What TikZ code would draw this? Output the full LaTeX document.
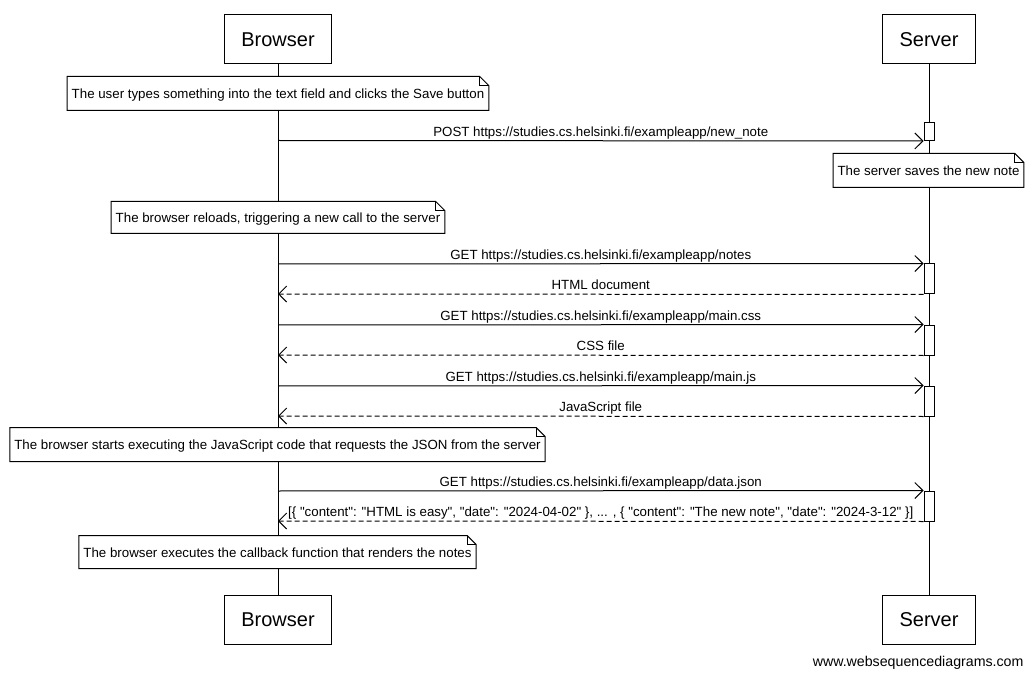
\documentclass[tikz,border=0pt]{standalone}
\usepackage{fontspec}
\setmainfont{Liberation Sans}[Ligatures=TeXOff]
\usetikzlibrary{arrows.meta,positioning}
\newcommand{\actorfont}{\fontsize{20}{24}\selectfont}
\newcommand{\notefont}{\fontsize{13.3}{16}\selectfont}
\newcommand{\noteframe}[1]{%
  \draw (#1.south west) -- (#1.north west) -- ([xshift=-9pt]#1.north east)
    -- ([yshift=-9pt]#1.north east) -- (#1.south east) -- cycle;
  \draw ([xshift=-9pt]#1.north east) |- ([yshift=-9pt]#1.north east);}

\begin{document}
\begin{tikzpicture}[x=1pt,y=-1pt,line width=1pt,
  actor/.style={draw,inner xsep=17pt,minimum height=49pt,font=\actorfont},
  note/.style={fill=white,inner xsep=4pt,minimum height=33pt,text height=10pt,text depth=0pt,font=\notefont},
  act/.style={draw,fill=white,minimum width=10pt,inner sep=0pt},
  msg/.style={-{Straight Barb[length=8pt,width=16pt]}},
  reply/.style={msg,dash pattern=on 5pt off 3pt},
  lbl/.style={above,inner sep=1pt,text depth=3.2pt,font=\notefont}]
  \useasboundingbox (0,0) rectangle (1034,679);
  \node[actor] (browser) at (278,39.5) {Browser};
  \node[actor] (server) at (929,39.5) {Server};
  \node[actor] (browserbot) at (278,620) {Browser};
  \node[actor] (serverbot) at (929,620) {Server};
  \draw (browser) -- (browserbot);
  \draw (server) -- (serverbot);

  \node[note] (n1) at (278,93.5) {The user types something into the text field and clicks the Save button};
  \noteframe{n1}
  \node[act,minimum height=18pt] (a1) at (929,131.5) {};
  \coordinate (post) at (278,140.5);
  \draw[msg] (post) -- node[lbl] {POST https://studies.cs.helsinki.fi/exampleapp/new\_note} (a1.south west);
  \node[note] (ns) at (928.5,170.5) {The server saves the new note};
  \noteframe{ns}
  \node[note,minimum height=31pt] (n2) at (278,217.5) {The browser reloads, triggering a new call to the server};
  \noteframe{n2}

  \foreach \i/\y/\file/\answer in {2/264/notes/HTML document,3/325/main.css/CSS file,4/386/main.js/JavaScript file}{
    \node[act,minimum height=30pt] (a\i) at (929,\y+15) {};
    \coordinate (req\i) at (278,\y);
    \coordinate (res\i) at (278,\y+30);
    \draw[msg] (req\i) -- node[lbl] {GET https://studies.cs.helsinki.fi/exampleapp/\file} (a\i.north west);
    \draw[reply] (a\i.south west) -- node[lbl] {\answer} (res\i);
  }

  \node[note] (n3) at (277.5,444.5) {The browser starts executing the JavaScript code that requests the JSON from the server};
  \noteframe{n3}
  \node[act,minimum height=30pt] (a5) at (929,506) {};
  \coordinate (req5) at (278,491);
  \coordinate (res5) at (278,521);
  \draw[msg] (req5) -- node[lbl] {GET https://studies.cs.helsinki.fi/exampleapp/data.json} (a5.north west);
  \draw[reply] (a5.south west) -- node[lbl] {[\{ "content": "HTML is easy", "date": "2024-04-02" \}, ... , \{ "content": "The new note", "date": "2024-3-12" \}]} (res5);
  \node[note,minimum height=32pt] (n4) at (277.5,552) {The browser executes the callback function that renders the notes};
  \noteframe{n4}

  \node[anchor=east,inner sep=0pt,font=\fontsize{14.2}{17}\selectfont] (credit) at (1024,663) {www.websequencediagrams.com};
\end{tikzpicture}
\end{document}
